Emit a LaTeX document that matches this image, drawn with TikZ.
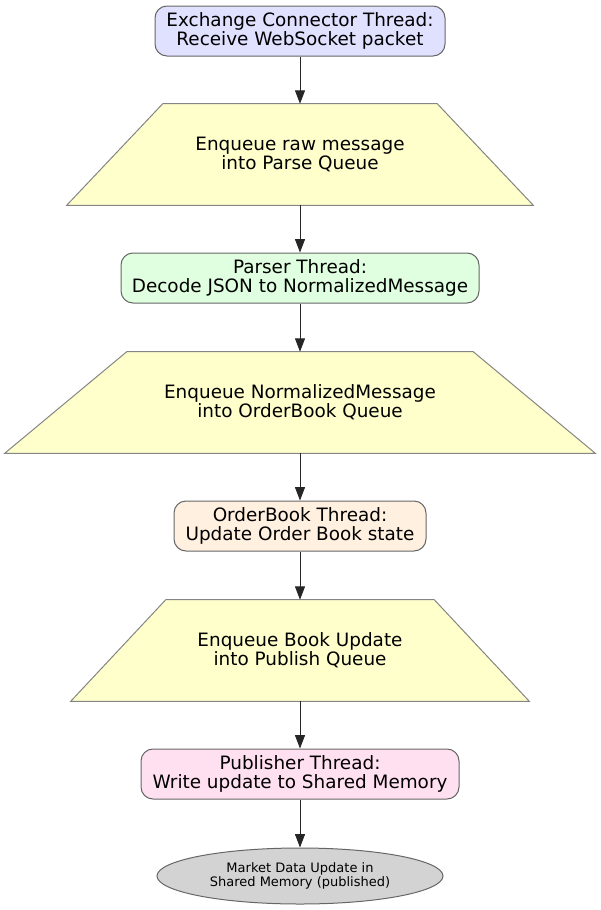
\documentclass[tikz,border=0pt]{standalone}
\usepackage{fontspec}
\setmainfont{DejaVu Sans}
\usetikzlibrary{shapes.geometric,arrows.meta,backgrounds}
\definecolor{cblue}{RGB}{224,224,255}
\definecolor{cyel}{RGB}{255,255,204}
\definecolor{cgreen}{RGB}{224,255,224}
\definecolor{corange}{RGB}{255,240,224}
\definecolor{cpink}{RGB}{255,224,240}
\definecolor{cgray}{RGB}{211,211,211}
\definecolor{cedge}{RGB}{102,102,102}
\tikzset{
  thread/.style={draw=cedge, line width=0.75pt, rounded corners=9pt, minimum height=37.5pt, align=center, font=\fontsize{13.8}{14.3}\selectfont, inner sep=0pt},
  queue/.style={draw=none, minimum height=75.75pt, align=center, font=\fontsize{13.8}{14.3}\selectfont, inner sep=0pt},
  qshape/.style={draw=cedge!80, fill=cyel, line width=0.75pt},
  finalnode/.style={ellipse, draw=cedge, fill=cgray, line width=0.75pt, minimum width=214.5pt, minimum height=42pt, inner sep=0pt, align=center, font=\fontsize{9.75}{10}\selectfont},
  flow/.style={-{Triangle[length=10pt,width=7.5pt]}, line width=0.65pt, black!85}
}
\begin{document}
\begin{tikzpicture}[x=0.75pt,y=-0.75pt]
\useasboundingbox (0,0) rectangle (600,910);
\node[thread, fill=cblue, minimum width=217.5pt] (n1) at (300,31) {Exchange Connector Thread:\\Receive WebSocket packet};
\node[queue, minimum width=349.5pt] (q1) at (300,154.5) {Enqueue raw message\\into Parse Queue};
\node[thread, fill=cgreen, minimum width=268.5pt] (n2) at (300,278) {Parser Thread:\\Decode JSON to NormalizedMessage};
\node[queue, minimum width=442.5pt] (q2) at (300,402.5) {Enqueue NormalizedMessage\\into OrderBook Queue};
\node[thread, fill=corange, minimum width=189pt] (n3) at (300,526) {OrderBook Thread:\\Update Order Book state};
\node[queue, minimum width=343.5pt] (q3) at (300,650.5) {Enqueue Book Update\\into Publish Queue};
\node[thread, fill=cpink, minimum width=238.5pt] (n4) at (300,774) {Publisher Thread:\\Write update to Shared Memory};
\node[finalnode] (n5) at (300,876) {Market Data Update in\\Shared Memory (published)};
\begin{scope}[on background layer]
\draw[qshape] (q1.south west) -- (q1.south east) -- ([xshift=-72pt]q1.north east) -- ([xshift=72pt]q1.north west) -- cycle;
\draw[qshape] (q2.south west) -- (q2.south east) -- ([xshift=-91.5pt]q2.north east) -- ([xshift=91.5pt]q2.north west) -- cycle;
\draw[qshape] (q3.south west) -- (q3.south east) -- ([xshift=-71.25pt]q3.north east) -- ([xshift=71.25pt]q3.north west) -- cycle;
\end{scope}
\draw[flow] (n1) -- (q1);
\draw[flow] (q1) -- (n2);
\draw[flow] (n2) -- (q2);
\draw[flow] (q2) -- (n3);
\draw[flow] (n3) -- (q3);
\draw[flow] (q3) -- (n4);
\draw[flow] (n4) -- (n5);
\end{tikzpicture}
\end{document}
